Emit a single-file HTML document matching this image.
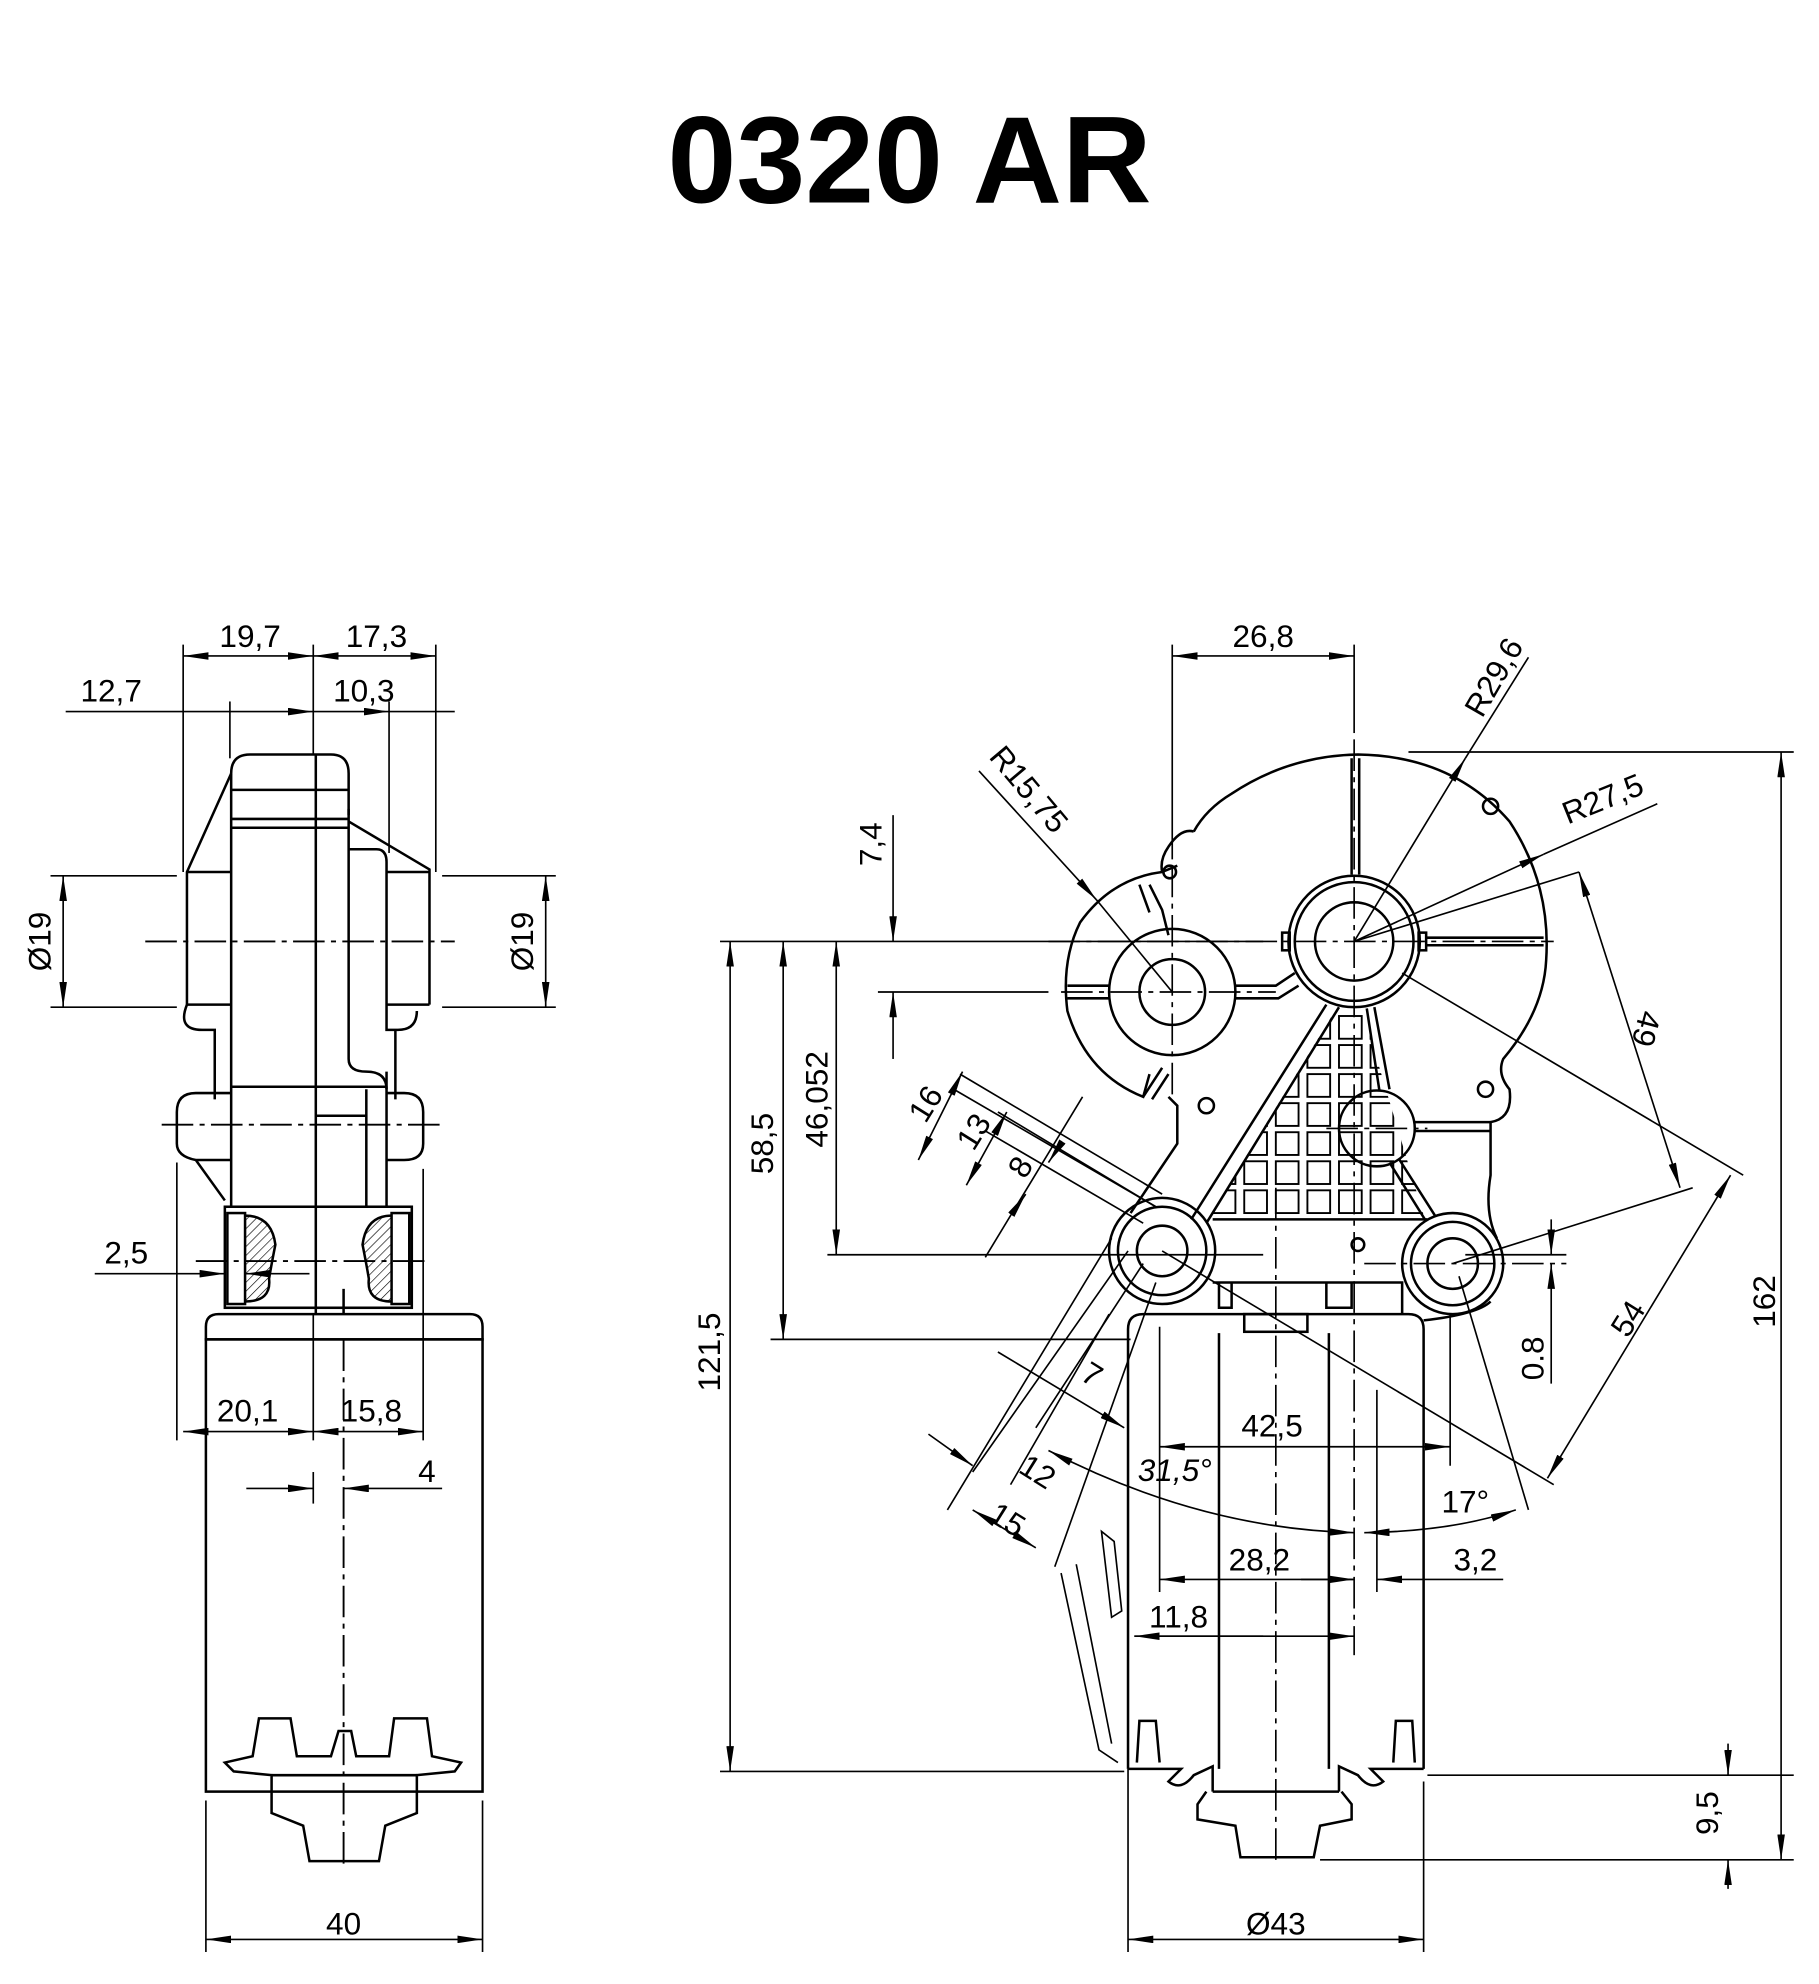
<!DOCTYPE html>
<html><head><meta charset="utf-8"><style>
html,body{margin:0;padding:0;background:#fff}
svg{display:block}
text{font-family:"Liberation Sans",sans-serif;font-size:25px;fill:#000}
</style></head><body>
<svg width="1819" height="1984" viewBox="0 0 1440 1570" xmlns="http://www.w3.org/2000/svg">
<defs>
<marker id="a" viewBox="0 0 20 6" refX="20" refY="3" markerWidth="20" markerHeight="6" orient="auto-start-reverse" markerUnits="userSpaceOnUse"><path d="M0,0 L20,3 L0,6z" fill="#000"/></marker>
<clipPath id="tri"><polygon points="1058,798 956,965 1128,965 1078,798"/></clipPath>
<pattern id="hat" width="5" height="5" patternUnits="userSpaceOnUse" patternTransform="rotate(45)"><line x1="0" y1="0" x2="0" y2="5" stroke="#000" stroke-width="1"/></pattern>
</defs>
<text x="720" y="160" text-anchor="middle" style="font-size:98px;font-weight:bold">0320 AR</text>

<g fill="none" stroke="#000" stroke-width="2">
<!-- LEFT VIEW -->
<path d="M163,1060 V1050 Q163,1040 173,1040 H372 Q382,1040 382,1050 V1060 Z"/>
<rect x="163" y="1060" width="219" height="358"/>
<path d="M178,1395 L200,1390 L205,1360 H230 L235,1390 L262,1390 L268,1370 H278 L282,1390 L308,1390 L312,1360 H338 L342,1390 L365,1395 L360,1402 L330,1405 V1435 L305,1445 L300,1473 H245 L240,1445 L215,1435 V1405 L185,1402 Z"/>
<line x1="215" y1="1405" x2="330" y2="1405"/>
<!-- gearbox left view -->
<path d="M183,612 Q183,597 198,597 H262 Q276,597 276,612 V645"/>
<line x1="183" y1="612" x2="183" y2="955"/>
<line x1="276" y1="640" x2="276" y2="838"/>
<line x1="183" y1="625" x2="276" y2="625"/>
<line x1="183" y1="648" x2="276" y2="648"/>
<line x1="183" y1="655" x2="276" y2="655"/>
<path d="M183,612 L148,690 V795"/>
<path d="M276,650 L340,688 V795"/>
<path d="M276,672 H298 Q306,672 306,682 V800"/>
<path d="M276,838 Q276,848 290,848 Q306,848 306,862"/>
<path d="M148,690 H183 M148,795 H183 M306,690 H340 M306,795 H340"/>
<path d="M148,795 Q140,815 160,815 H170 V870 M306,800 V815 H315 Q330,815 330,800"/>
<path d="M313,815 V870"/>
<path d="M183,865 H155 Q140,865 140,880 V905 Q140,915 155,918 L178,950 M183,918 H155"/>
<path d="M306,865 H320 Q335,865 335,880 V905 Q335,918 320,918 H306"/>
<line x1="183" y1="860" x2="306" y2="860"/>
<line x1="306" y1="848" x2="306" y2="955"/>
<path d="M250,883 H290 V862 M290,883 V955"/>
<rect x="178" y="955" width="148" height="80"/>
<path d="M178,1035 H326"/>
<rect x="180" y="960" width="14" height="72"/>
<rect x="310" y="960" width="14" height="72"/>
<path d="M194,962 Q215,962 218,985 Q215,1000 213,1012 Q215,1030 194,1030" fill="url(#hat)"/>
<path d="M310,962 Q290,962 287,985 Q290,1000 292,1012 Q290,1030 310,1030" fill="url(#hat)"/>
<line x1="250" y1="597" x2="250" y2="1040"/>
<line x1="272" y1="1020" x2="272" y2="1040"/>
<line x1="272" y1="1060" x2="272" y2="1480" stroke-dasharray="25,5,4,5" stroke-width="1.5"/>
<line x1="115" y1="745" x2="360" y2="745" stroke-dasharray="25,5,4,5" stroke-width="1.5"/>
<line x1="128" y1="890" x2="350" y2="890" stroke-dasharray="25,5,4,5" stroke-width="1.5"/>
<line x1="155" y1="998" x2="340" y2="998" stroke-dasharray="25,5,4,5" stroke-width="1.5"/>
</g>

<g fill="none" stroke="#000" stroke-width="1.3">
<!-- left dims -->
<line x1="145" y1="510" x2="145" y2="690"/><line x1="248" y1="510" x2="248" y2="597"/><line x1="345" y1="510" x2="345" y2="690"/>
<line x1="145" y1="519" x2="248" y2="519" marker-start="url(#a)" marker-end="url(#a)"/>
<line x1="248" y1="519" x2="345" y2="519" marker-start="url(#a)" marker-end="url(#a)"/>
<line x1="182" y1="555" x2="182" y2="600"/><line x1="308" y1="555" x2="308" y2="675"/>
<line x1="52" y1="563" x2="182" y2="563"/>
<line x1="182" y1="563" x2="248" y2="563" marker-end="url(#a)"/>
<line x1="248" y1="563" x2="308" y2="563" marker-end="url(#a)"/>
<line x1="308" y1="563" x2="360" y2="563"/>
<line x1="40" y1="693" x2="140" y2="693"/><line x1="40" y1="797" x2="140" y2="797"/>
<line x1="50" y1="693" x2="50" y2="797" marker-start="url(#a)" marker-end="url(#a)"/>
<line x1="350" y1="693" x2="440" y2="693"/><line x1="350" y1="797" x2="440" y2="797"/>
<line x1="432" y1="693" x2="432" y2="797" marker-start="url(#a)" marker-end="url(#a)"/>
<line x1="75" y1="1008" x2="178" y2="1008" marker-end="url(#a)"/>
<line x1="245" y1="1008" x2="194" y2="1008" marker-end="url(#a)"/>
<line x1="140" y1="920" x2="140" y2="1140"/><line x1="335" y1="925" x2="335" y2="1140"/>
<line x1="248" y1="1040" x2="248" y2="1140"/>
<line x1="145" y1="1133" x2="248" y2="1133" marker-start="url(#a)" marker-end="url(#a)"/>
<line x1="248" y1="1133" x2="335" y2="1133" marker-start="url(#a)" marker-end="url(#a)"/>
<line x1="195" y1="1178" x2="248" y2="1178" marker-end="url(#a)"/>
<line x1="350" y1="1178" x2="272" y2="1178" marker-end="url(#a)"/>
<line x1="248" y1="1165" x2="248" y2="1190"/>
<line x1="163" y1="1425" x2="163" y2="1545"/><line x1="382" y1="1425" x2="382" y2="1545"/>
<line x1="163" y1="1535" x2="382" y2="1535" marker-start="url(#a)" marker-end="url(#a)"/>
</g>
<text x="198" y="512" text-anchor="middle">19,7</text>
<text x="298" y="512" text-anchor="middle">17,3</text>
<text x="88" y="555" text-anchor="middle">12,7</text>
<text x="288" y="555" text-anchor="middle">10,3</text>
<text transform="translate(40,745) rotate(-90)" text-anchor="middle">Ø19</text>
<text transform="translate(422,745) rotate(-90)" text-anchor="middle">Ø19</text>
<text x="100" y="1000" text-anchor="middle">2,5</text>
<text x="196" y="1125" text-anchor="middle">20,1</text>
<text x="294" y="1125" text-anchor="middle">15,8</text>
<text x="338" y="1173" text-anchor="middle">4</text>
<text x="272" y="1531" text-anchor="middle">40</text>

<!-- RIGHT VIEW -->
<g fill="none" stroke="#000" stroke-width="2">
<path d="M893,1400 V1052 Q893,1040 905,1040 H1115 Q1127,1040 1127,1052 V1400"/>
<line x1="965" y1="1055" x2="965" y2="1400"/>
<line x1="1052" y1="1055" x2="1052" y2="1400"/>
<rect x="985" y="1040" width="50" height="14"/>
<path d="M893,1400 H935 L925,1410 Q935,1418 945,1405 L960,1398 V1418 M1127,1400 H1085 L1095,1410 Q1085,1418 1075,1405 L1060,1398 V1418"/>
<path d="M900,1395 L902,1362 H915 L918,1395 M1103,1395 L1105,1362 H1118 L1120,1395"/>
<path d="M960,1418 H1060 M955,1418 L948,1428 V1440 L978,1445 L982,1470 H1040 L1045,1445 L1070,1440 V1428 L1062,1418"/>
<!-- gear housing -->
<path d="M945,658 Q955,640 975,628 Q1020,598 1075,597 Q1150,598 1195,650 Q1228,700 1224,760 Q1222,800 1190,838 Q1185,850 1195,862 Q1198,885 1180,888 V930 Q1175,960 1185,980"/>
<path d="M945,658 Q935,655 925,670 Q918,680 920,690 Q880,695 855,730 Q840,760 845,800 Q860,850 905,868 L910,850 M920,690 L932,685"/>
<path d="M925,868 L932,875 V905 L895,960"/>
<path d="M910,700 L920,720 L925,740 M902,700 L910,722"/>
<path d="M905,868 L920,845 M912,870 L925,850"/>
<circle cx="928" cy="785" r="50"/>
<circle cx="928" cy="785" r="26"/>
<path d="M845,780 H878 M978,780 H1010 L1025,770"/>
<path d="M845,790 H878 M978,790 H1012 L1028,780"/>
<circle cx="1072" cy="745" r="52"/>
<circle cx="1072" cy="745" r="47"/>
<circle cx="1072" cy="745" r="31"/>
<rect x="1015" y="738" width="6" height="14"/><rect x="1123" y="738" width="6" height="14"/>
<path d="M1070,600 V692 M1076,600 V692 M1129,742 H1222 M1129,748 H1222"/>
<circle cx="920" cy="990" r="42"/>
<circle cx="920" cy="990" r="35"/>
<circle cx="920" cy="990" r="20"/>
<circle cx="1150" cy="1000" r="40"/>
<circle cx="1150" cy="1000" r="33"/>
<circle cx="1150" cy="1000" r="20"/>
<circle cx="1090" cy="893" r="30"/>
<path d="M1120,888 H1180 M1120,895 H1180"/>
<path d="M1050,795 L943,965 M1060,797 L955,968"/>
<path d="M1082,798 L1092,863 M1088,797 L1100,862"/>
<path d="M1100,920 L1128,965 M1108,918 L1136,962"/>
<path d="M960,965 H1130"/>
<path d="M960,1015 H1110 V1040 M965,1015 V1035 H975 V1015 M1050,1015 V1035 H1070 V1015"/>
<path d="M1180,1030 Q1170,1040 1127,1045"/>
<circle cx="926" cy="690" r="5"/><circle cx="955" cy="875" r="6"/><circle cx="1180" cy="638" r="6"/><circle cx="1176" cy="862" r="6"/><circle cx="1075" cy="985" r="5"/>
</g>
<g clip-path="url(#tri)" fill="none" stroke="#000" stroke-width="1.5">
<g id="row">
<rect x="935" y="942" width="18" height="18"/><rect x="960" y="942" width="18" height="18"/><rect x="985" y="942" width="18" height="18"/><rect x="1010" y="942" width="18" height="18"/><rect x="1035" y="942" width="18" height="18"/><rect x="1060" y="942" width="18" height="18"/><rect x="1085" y="942" width="18" height="18"/><rect x="1110" y="942" width="18" height="18"/>
</g>
<use href="#row" y="-23"/><use href="#row" y="-46"/><use href="#row" y="-69"/><use href="#row" y="-92"/><use href="#row" y="-115"/><use href="#row" y="-138"/>
</g>
<!-- center lines -->
<g fill="none" stroke="#000" stroke-width="1.3" stroke-dasharray="25,5,4,5">
<line x1="1072" y1="585" x2="1072" y2="1310"/>
<line x1="830" y1="745" x2="1230" y2="745"/>
<line x1="840" y1="785" x2="1010" y2="785"/>
<line x1="928" y1="685" x2="928" y2="870"/>
<line x1="1010" y1="940" x2="1010" y2="1475"/>
<line x1="1050" y1="893" x2="1130" y2="893"/>
<line x1="1080" y1="1000" x2="1240" y2="1000"/>
</g>
<!-- right dims -->
<g fill="none" stroke="#000" stroke-width="1.3">
<line x1="928" y1="510" x2="928" y2="680"/><line x1="1072" y1="510" x2="1072" y2="580"/>
<line x1="928" y1="519" x2="1072" y2="519" marker-start="url(#a)" marker-end="url(#a)"/>
<line x1="1072" y1="745" x2="1160" y2="600" marker-end="url(#a)"/>
<line x1="1160" y1="600" x2="1210" y2="520"/>
<line x1="1072" y1="745" x2="1222" y2="676" marker-end="url(#a)"/>
<line x1="1222" y1="676" x2="1312" y2="636"/>
<line x1="1072" y1="745" x2="1250" y2="690"/>
<line x1="775" y1="610" x2="868" y2="712" marker-end="url(#a)"/>
<line x1="868" y1="712" x2="928" y2="785"/>
<line x1="1115" y1="595" x2="1420" y2="595"/>
<line x1="1130" y1="1405" x2="1420" y2="1405"/>
<line x1="1045" y1="1472" x2="1420" y2="1472"/>
<line x1="1410" y1="595" x2="1410" y2="1472" marker-start="url(#a)" marker-end="url(#a)"/>
<line x1="1368" y1="1380" x2="1368" y2="1405" marker-end="url(#a)"/>
<line x1="1368" y1="1495" x2="1368" y2="1472" marker-end="url(#a)"/>
<line x1="570" y1="745" x2="1000" y2="745"/>
<line x1="570" y1="1402" x2="890" y2="1402"/>
<line x1="578" y1="745" x2="578" y2="1402" marker-start="url(#a)" marker-end="url(#a)"/>
<line x1="610" y1="1060" x2="895" y2="1060"/>
<line x1="620" y1="745" x2="620" y2="1060" marker-start="url(#a)" marker-end="url(#a)"/>
<line x1="655" y1="993" x2="1000" y2="993"/>
<line x1="662" y1="745" x2="662" y2="993" marker-start="url(#a)" marker-end="url(#a)"/>
<line x1="695" y1="785" x2="830" y2="785"/>
<line x1="707" y1="645" x2="707" y2="745" marker-end="url(#a)"/>
<line x1="707" y1="838" x2="707" y2="785" marker-end="url(#a)"/>
<line x1="1228" y1="965" x2="1228" y2="993" marker-end="url(#a)"/>
<line x1="1228" y1="1095" x2="1228" y2="1000" marker-end="url(#a)"/>
<line x1="1160" y1="993" x2="1240" y2="993"/>
<line x1="1250" y1="690" x2="1330" y2="940" marker-start="url(#a)" marker-end="url(#a)"/>
<line x1="1110" y1="770" x2="1380" y2="930"/>
<line x1="1150" y1="1000" x2="1340" y2="940"/>
<line x1="1370" y1="930" x2="1225" y2="1170" marker-start="url(#a)" marker-end="url(#a)"/>
<line x1="1155" y1="1010" x2="1210" y2="1195"/>
<line x1="918" y1="1050" x2="918" y2="1260"/>
<line x1="1148" y1="1040" x2="1148" y2="1160"/>
<line x1="918" y1="1145" x2="1148" y2="1145" marker-start="url(#a)" marker-end="url(#a)"/>
<line x1="918" y1="1250" x2="1072" y2="1250" marker-start="url(#a)" marker-end="url(#a)"/>
<line x1="1090" y1="1100" x2="1090" y2="1260"/>
<line x1="1190" y1="1250" x2="1090" y2="1250" marker-end="url(#a)"/>
<line x1="1030" y1="1250" x2="1072" y2="1250"/>
<line x1="898" y1="1295" x2="1072" y2="1295" marker-end="url(#a)"/>
<line x1="898" y1="1295" x2="1000" y2="1295" marker-start="url(#a)"/>
<path d="M830,1148 Q950,1210 1072,1213" marker-start="url(#a)" marker-end="url(#a)"/>
<path d="M1080,1213 Q1150,1212 1200,1195" marker-start="url(#a)" marker-end="url(#a)"/>
<line x1="920" y1="990" x2="1230" y2="1175"/>
<line x1="760" y1="850" x2="920" y2="945"/><line x1="755" y1="862" x2="915" y2="955"/>
<line x1="790" y1="880" x2="915" y2="955"/><line x1="780" y1="895" x2="905" y2="968"/>
<line x1="720" y1="920" x2="840" y2="840" stroke-width="0"/>
<line x1="762" y1="848" x2="727" y2="918" marker-start="url(#a)" marker-end="url(#a)"/>
<line x1="797" y1="880" x2="765" y2="938" marker-start="url(#a)" marker-end="url(#a)"/>
<line x1="857" y1="868" x2="780" y2="995"/>
<line x1="840" y1="905" x2="830" y2="920" marker-end="url(#a)"/>
<line x1="805" y1="955" x2="812" y2="945" marker-end="url(#a)"/>
<line x1="880" y1="980" x2="750" y2="1195"/><line x1="893" y1="990" x2="770" y2="1165"/>
<line x1="905" y1="1000" x2="820" y2="1130"/><line x1="915" y1="1015" x2="835" y2="1240"/>
<line x1="878" y1="1040" x2="800" y2="1175"/>
<line x1="790" y1="1070" x2="890" y2="1130" marker-end="url(#a)"/>
<line x1="735" y1="1135" x2="770" y2="1160" marker-end="url(#a)"/>
<line x1="770" y1="1195" x2="820" y2="1225" marker-start="url(#a)" marker-end="url(#a)"/>
<line x1="893" y1="1400" x2="893" y2="1545"/><line x1="1127" y1="1410" x2="1127" y2="1545"/>
<line x1="893" y1="1535" x2="1127" y2="1535" marker-start="url(#a)" marker-end="url(#a)"/>
<path d="M840,1245 L870,1385 L885,1395 M852,1238 L880,1380"/>
<path d="M872,1212 L882,1220 L888,1275 L880,1280 Z"/>
</g>
<text x="1000" y="512" text-anchor="middle">26,8</text>
<text transform="translate(1190,540) rotate(-60)" text-anchor="middle">R29,6</text>
<text transform="translate(1272,640) rotate(-22)" text-anchor="middle">R27,5</text>
<text transform="translate(808,630) rotate(50)" text-anchor="middle">R15,75</text>
<text transform="translate(698,668) rotate(-90)" text-anchor="middle">7,4</text>
<text transform="translate(570,1070) rotate(-90)" text-anchor="middle">121,5</text>
<text transform="translate(612,905) rotate(-90)" text-anchor="middle">58,5</text>
<text transform="translate(655,870) rotate(-90)" text-anchor="middle">46,052</text>
<text transform="translate(1405,1030) rotate(-90)" text-anchor="middle">162</text>
<text transform="translate(1360,1435) rotate(-90)" text-anchor="middle">9,5</text>
<text transform="translate(1222,1075) rotate(-90)" text-anchor="middle">0.8</text>
<text transform="translate(1295,812) rotate(105)" text-anchor="middle">49</text>
<text transform="translate(1296,1048) rotate(-58)" text-anchor="middle">54</text>
<text transform="translate(740,878) rotate(-58)" text-anchor="middle">16</text>
<text transform="translate(778,900) rotate(-58)" text-anchor="middle">13</text>
<text transform="translate(815,928) rotate(-58)" text-anchor="middle">8</text>
<text transform="translate(860,1095) rotate(32)" text-anchor="middle">7</text>
<text transform="translate(817,1172) rotate(32)" text-anchor="middle">12</text>
<text transform="translate(793,1210) rotate(32)" text-anchor="middle">15</text>
<text x="1007" y="1137" text-anchor="middle">42,5</text>
<text x="930" y="1172" text-anchor="middle" style="font-style:italic">31,5°</text>
<text x="1160" y="1197" text-anchor="middle">17°</text>
<text x="997" y="1243" text-anchor="middle">28,2</text>
<text x="1168" y="1243" text-anchor="middle">3,2</text>
<text x="933" y="1288" text-anchor="middle">11,8</text>
<text x="1010" y="1531" text-anchor="middle">Ø43</text>
</svg>
</body></html>
